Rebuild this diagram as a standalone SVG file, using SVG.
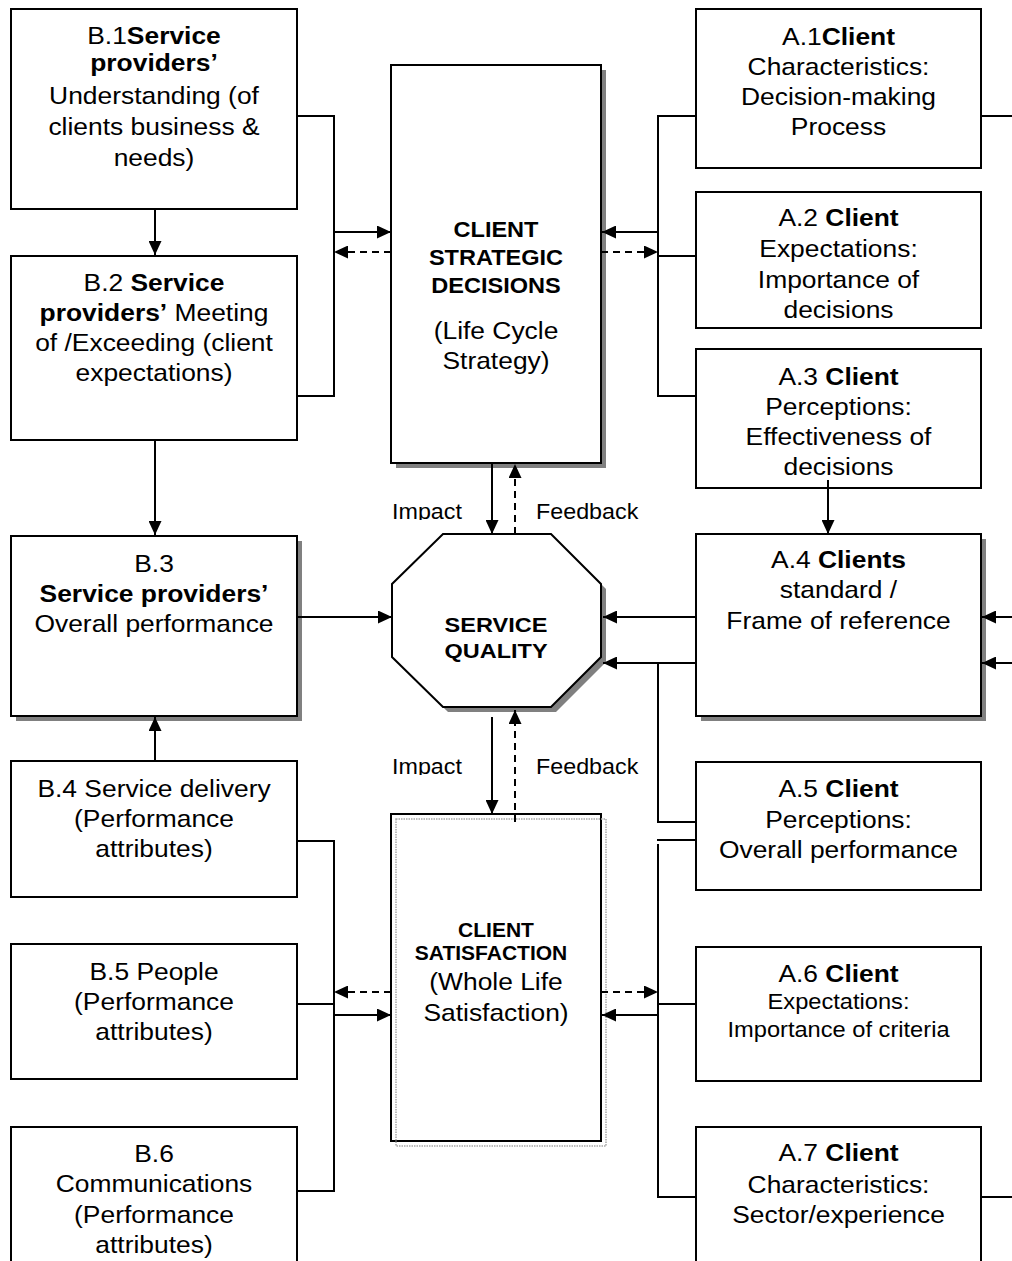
<svg xmlns="http://www.w3.org/2000/svg" width="1012" height="1261" viewBox="0 0 1012 1261">
<style>
.box{fill:#fff;stroke:#000;stroke-width:2}
.sh{fill:#808080}
.ln{fill:none;stroke:#000;stroke-width:2}
.ar{marker-end:url(#ah)}
.dash{stroke-dasharray:7 5}
text{font-family:'Liberation Sans',Arial,sans-serif;font-size:24px;text-anchor:middle;fill:#000}
.b{font-weight:bold}
.ttl{font-weight:bold;font-size:22px}
.sm{font-size:21.5px}
.lbl{font-size:22px;text-anchor:start}
</style>
<defs>
<marker id="ah" viewBox="0 0 14 13" refX="14" refY="6.5" markerWidth="14" markerHeight="13" markerUnits="userSpaceOnUse" orient="auto"><path d="M0,0 L14,6.5 L0,13 z" fill="#000"/></marker>
<clipPath id="c1"><rect x="380" y="490" width="280" height="30"/></clipPath>
<clipPath id="c2"><rect x="380" y="745" width="280" height="30"/></clipPath>
</defs>
<rect width="1012" height="1261" fill="#fff"/>

<g id="B1">
<rect class="box" x="11" y="9" width="286" height="200"/>
<g transform="translate(154,0) scale(1.1,1)">
<text x="0" y="44">B.1<tspan class="b">Service</tspan></text>
<text x="0" y="71" class="b">providers’</text>
<text x="0" y="104">Understanding (of</text>
<text x="0" y="135">clients business &amp;</text>
<text x="0" y="166">needs)</text>
</g>
</g>

<g id="B2">
<rect class="box" x="11" y="256" width="286" height="184"/>
<g transform="translate(154,0) scale(1.1,1)">
<text x="0" y="291">B.2 <tspan class="b">Service</tspan></text>
<text x="0" y="321"><tspan class="b">providers’</tspan> Meeting</text>
<text x="0" y="351">of /Exceeding (client</text>
<text x="0" y="381">expectations)</text>
</g>
</g>

<g id="B3">
<rect class="sh" x="16" y="541" width="286" height="180"/>
<rect class="box" x="11" y="536" width="286" height="180"/>
<g transform="translate(154,0) scale(1.1,1)">
<text x="0" y="572">B.3</text>
<text x="0" y="602" class="b">Service providers’</text>
<text x="0" y="632">Overall performance</text>
</g>
</g>

<g id="B4">
<rect class="box" x="11" y="761" width="286" height="136"/>
<g transform="translate(154,0) scale(1.1,1)">
<text x="0" y="797">B.4 Service delivery</text>
<text x="0" y="827">(Performance</text>
<text x="0" y="857">attributes)</text>
</g>
</g>

<g id="B5">
<rect class="box" x="11" y="944" width="286" height="135"/>
<g transform="translate(154,0) scale(1.1,1)">
<text x="0" y="980">B.5 People</text>
<text x="0" y="1010">(Performance</text>
<text x="0" y="1040">attributes)</text>
</g>
</g>

<g id="B6">
<rect class="box" x="11" y="1127" width="286" height="150"/>
<g transform="translate(154,0) scale(1.1,1)">
<text x="0" y="1162">B.6</text>
<text x="0" y="1192">Communications</text>
<text x="0" y="1223">(Performance</text>
<text x="0" y="1253">attributes)</text>
</g>
</g>

<g id="A1">
<rect class="box" x="696" y="9" width="285" height="159"/>
<g transform="translate(838.5,0) scale(1.1,1)">
<text x="0" y="45">A.1<tspan class="b">Client</tspan></text>
<text x="0" y="75">Characteristics:</text>
<text x="0" y="105">Decision-making</text>
<text x="0" y="135">Process</text>
</g>
</g>

<g id="A2">
<rect class="box" x="696" y="192" width="285" height="136"/>
<g transform="translate(838.5,0) scale(1.1,1)">
<text x="0" y="226">A.2 <tspan class="b">Client</tspan></text>
<text x="0" y="257">Expectations:</text>
<text x="0" y="288">Importance of</text>
<text x="0" y="318">decisions</text>
</g>
</g>

<g id="A3">
<rect class="box" x="696" y="349" width="285" height="139"/>
<g transform="translate(838.5,0) scale(1.1,1)">
<text x="0" y="385">A.3 <tspan class="b">Client</tspan></text>
<text x="0" y="415">Perceptions:</text>
<text x="0" y="445">Effectiveness of</text>
<text x="0" y="475">decisions</text>
</g>
</g>

<g id="A4">
<rect class="sh" x="701" y="539" width="285" height="182"/>
<rect class="box" x="696" y="534" width="285" height="182"/>
<g transform="translate(838.5,0) scale(1.1,1)">
<text x="0" y="568">A.4 <tspan class="b">Clients</tspan></text>
<text x="0" y="598">standard /</text>
<text x="0" y="629">Frame of reference</text>
</g>
</g>

<g id="A5">
<rect class="box" x="696" y="762" width="285" height="128"/>
<g transform="translate(838.5,0) scale(1.1,1)">
<text x="0" y="797">A.5 <tspan class="b">Client</tspan></text>
<text x="0" y="828">Perceptions:</text>
<text x="0" y="858">Overall performance</text>
</g>
</g>

<g id="A6">
<rect class="box" x="696" y="947" width="285" height="134"/>
<g transform="translate(838.5,0) scale(1.1,1)">
<text x="0" y="982">A.6 <tspan class="b">Client</tspan></text>
<text x="0" y="1009" class="sm">Expectations:</text>
<text x="0" y="1037" class="sm">Importance of criteria</text>
</g>
</g>

<g id="A7">
<rect class="box" x="696" y="1127" width="285" height="150"/>
<g transform="translate(838.5,0) scale(1.1,1)">
<text x="0" y="1161">A.7 <tspan class="b">Client</tspan></text>
<text x="0" y="1193">Characteristics:</text>
<text x="0" y="1223">Sector/experience</text>
</g>
</g>

<g id="CSD">
<rect class="sh" x="396" y="70" width="210" height="398"/>
<rect class="box" x="391" y="65" width="210" height="398"/>
<g transform="translate(496,0) scale(1.07,1)">
<text x="0" y="237" class="ttl">CLIENT</text>
<text x="0" y="265" class="ttl">STRATEGIC</text>
<text x="0" y="293" class="ttl">DECISIONS</text>
</g>
<g transform="translate(496,0) scale(1.1,1)">
<text x="0" y="339">(Life Cycle</text>
<text x="0" y="369">Strategy)</text>
</g>
</g>

<g id="SQ">
<polygon class="sh" points="448,539 556,539 606,589 606,662 556,712 448,712 397,662 397,589"/>
<polygon class="box" points="443,534 551,534 601,584 601,657 551,707 443,707 392,657 392,584"/>
<g transform="translate(496,0) scale(1.12,1)">
<text x="0" y="632" class="ttl" style="font-size:21px">SERVICE</text>
<text x="0" y="658" class="ttl" style="font-size:21px">QUALITY</text>
</g>
</g>

<g id="CS">
<rect class="box" x="391" y="814" width="210" height="327"/>
<rect x="396" y="819" width="210" height="327" fill="none" stroke="#a8a8a8" stroke-width="1.5" stroke-dasharray="1.5 1"/>
<text x="496" y="937" class="b" style="font-size:21px">CLIENT</text>
<text x="491" y="960" class="b" style="font-size:21px">SATISFACTION</text>
<g transform="translate(496,0) scale(1.1,1)">
<text x="0" y="990">(Whole Life</text>
<text x="0" y="1021">Satisfaction)</text>
</g>
</g>

<g id="labels">
<g clip-path="url(#c1)">
<text class="lbl" transform="translate(392,519) scale(1.06,1)">Impact</text>
<text class="lbl" transform="translate(536,519) scale(1.06,1)">Feedback</text>
</g>
<g clip-path="url(#c2)">
<text class="lbl" transform="translate(392,774) scale(1.06,1)">Impact</text>
<text class="lbl" transform="translate(536,774) scale(1.06,1)">Feedback</text>
</g>
</g>

<g id="connectors">
<line class="ln ar" x1="155" y1="209" x2="155" y2="255"/>
<line class="ln ar" x1="155" y1="440" x2="155" y2="535"/>
<line class="ln ar" x1="155" y1="761" x2="155" y2="717"/>
<polyline class="ln" points="297,116 334,116 334,396 297,396"/>
<line class="ln ar" x1="334" y1="232" x2="391" y2="232"/>
<line class="ln ar dash" x1="391" y1="252" x2="334" y2="252"/>
<polyline class="ln" points="696,116 658,116 658,396 696,396"/>
<line class="ln" x1="658" y1="256" x2="696" y2="256"/>
<line class="ln ar" x1="658" y1="232" x2="602" y2="232"/>
<line class="ln ar dash" x1="601" y1="252" x2="658" y2="252"/>
<line class="ln" x1="981" y1="116" x2="1012" y2="116"/>
<line class="ln ar" x1="828" y1="480" x2="828" y2="534"/>
<line class="ln ar" x1="696" y1="617" x2="603" y2="617"/>
<line class="ln ar" x1="696" y1="663" x2="603" y2="663"/>
<polyline class="ln" points="658,663 658,822 696,822"/>
<line class="ln ar" x1="1012" y1="617" x2="982" y2="617"/>
<line class="ln ar" x1="1012" y1="663" x2="982" y2="663"/>
<line class="ln" x1="696" y1="840" x2="657" y2="840"/>
<polyline class="ln" points="658,844 658,1197 696,1197"/>
<line class="ln" x1="658" y1="1004" x2="696" y2="1004"/>
<line class="ln ar dash" x1="601" y1="992" x2="658" y2="992"/>
<line class="ln ar" x1="658" y1="1015" x2="602" y2="1015"/>
<line class="ln" x1="981" y1="1197" x2="1012" y2="1197"/>
<line class="ln ar" x1="297" y1="617" x2="392" y2="617"/>
<polyline class="ln" points="297,841 334,841 334,1191 297,1191"/>
<line class="ln" x1="297" y1="1004" x2="334" y2="1004"/>
<line class="ln ar dash" x1="391" y1="992" x2="334" y2="992"/>
<line class="ln ar" x1="334" y1="1015" x2="391" y2="1015"/>
<line class="ln ar" x1="492" y1="463" x2="492" y2="534"/>
<line class="ln ar dash" x1="515" y1="534" x2="515" y2="464"/>
<line class="ln ar" x1="492" y1="717" x2="492" y2="814"/>
<line class="ln ar dash" x1="515" y1="822" x2="515" y2="710"/>
</g>
</svg>
